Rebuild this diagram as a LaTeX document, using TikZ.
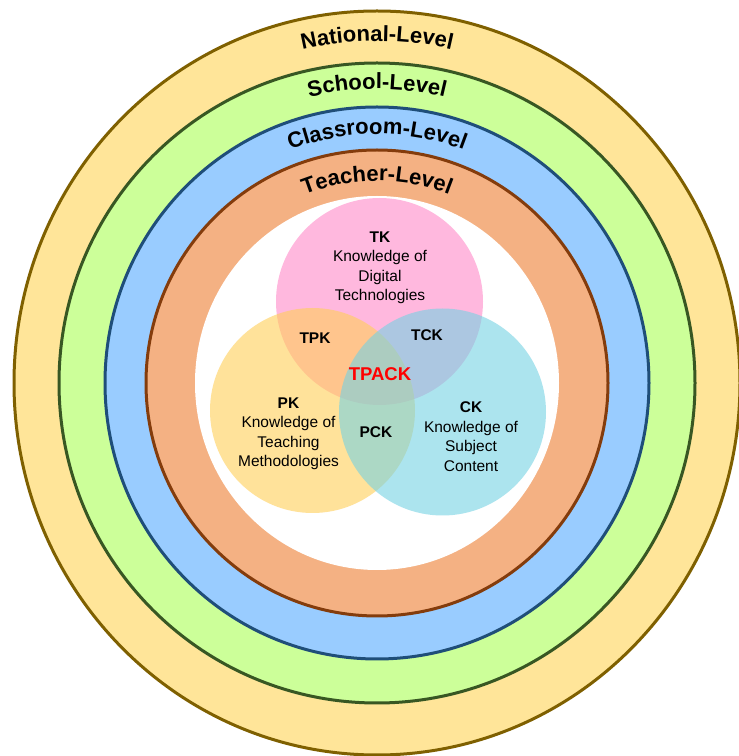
\documentclass[tikz,border=0pt]{standalone}
\usepackage{fontspec}
\setmainfont{Liberation Sans}
\usetikzlibrary{decorations.text}

% ring colours (fill / outline)
\definecolor{natfill}{HTML}{FFE599}
\definecolor{natline}{HTML}{7F6000}
\definecolor{schfill}{HTML}{CCFF99}
\definecolor{schline}{HTML}{385723}
\definecolor{clsfill}{HTML}{99CCFF}
\definecolor{clsline}{HTML}{1F4E79}
\definecolor{tchfill}{HTML}{F4B183}
\definecolor{tchline}{HTML}{843C0C}
% knowledge circles
\definecolor{tkfill}{RGB}{255,138,200}
\definecolor{pkfill}{RGB}{255,207,88}
\definecolor{ckfill}{RGB}{117,210,227}

\tikzset{
  ring/.style={line width=3pt},
  levelname/.style={decorate, decoration={text along path, text align=center,
      text={|\bfseries\fontsize{22}{26}\selectfont|#1}}},
  knowcircle/.style={fill opacity=0.6},
  vennlabel/.style={align=center, inner sep=0pt, font=\fontsize{15.5}{19.5}\selectfont},
  overlaplabel/.style={inner sep=0pt, font=\bfseries\fontsize{15.5}{19}\selectfont},
  corelabel/.style={inner sep=0pt, text=red, font=\bfseries\fontsize{18.5}{22}\selectfont},
}

\begin{document}
\begin{tikzpicture}[x=1pt,y=1pt]
  \useasboundingbox (0,0) rectangle (739,756);
  \fill[white] (0,0) rectangle (739,756);
  \coordinate (C) at (377,373);

  % nested levels
  \filldraw[ring, fill=natfill, draw=natline] (C) ellipse[x radius=363, y radius=372];
  \filldraw[ring, fill=schfill, draw=schline] (C) ellipse[x radius=318, y radius=320];
  \filldraw[ring, fill=clsfill, draw=clsline] (C) ellipse[x radius=272, y radius=276];
  \filldraw[ring, fill=tchfill, draw=tchline] (C) ellipse[x radius=231, y radius=233];
  \fill[white] (C) ellipse[x radius=182, y radius=187];

  % curved level names
  \path[levelname=National-Level] (C) ++(118:336 and 342) arc[start angle=118, end angle=62, x radius=336, y radius=342];
  \path[levelname=School-Level] (C) ++(120:290 and 294) arc[start angle=120, end angle=60, x radius=290, y radius=294];
  \path[levelname=Classroom-Level] (C) ++(125:245 and 249) arc[start angle=125, end angle=55, x radius=245, y radius=249];
  \path[levelname=Teacher-Level] (C) ++(130:199 and 202) arc[start angle=130, end angle=50, x radius=199, y radius=202];

  % TPACK circles
  \fill[knowcircle, tkfill] (379.5,454.5) circle[radius=103.5];
  \fill[knowcircle, pkfill] (312.5,345.5) circle[radius=102.5];
  \fill[knowcircle, ckfill] (442.5,344) circle[radius=103.5];

  % labels
  \node[vennlabel] (tk) at (380,488) {{\bfseries TK}\\Knowledge of\\Digital\\Technologies};
  \node[vennlabel] (pk) at (288.5,322) {{\bfseries PK}\\Knowledge of\\Teaching\\Methodologies};
  \node[vennlabel] (ck) at (471,319.5) {{\bfseries CK}\\Knowledge of\\Subject\\Content};
  \node[overlaplabel] (tpk) at (315,418) {TPK};
  \node[overlaplabel] (tck) at (427,421) {TCK};
  \node[overlaplabel] (pck) at (376,324) {PCK};
  \node[corelabel] (tpack) at (380,382) {TPACK};
\end{tikzpicture}
\end{document}
